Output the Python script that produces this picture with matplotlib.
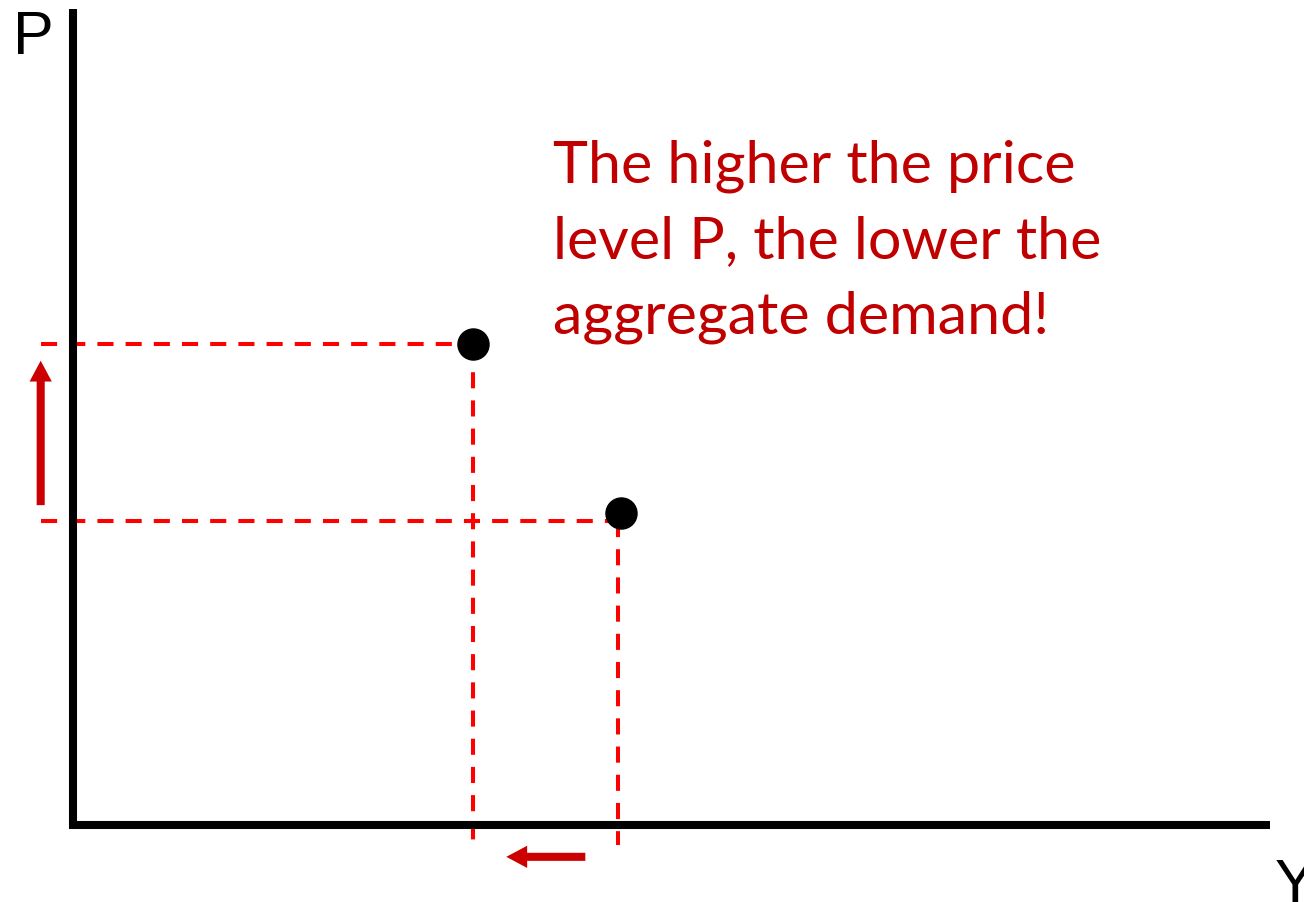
import matplotlib.pyplot as plt
from matplotlib.patches import FancyArrowPatch

# puntos de la demanda agregada (Y, P)
output_levels = [3.34, 4.58]
price_levels = [5.89, 3.82]

# líneas guía discontinuas
guide_y = [3.34, 4.55]
guide_p = [5.89, 3.73]
guide_start = -0.27
guide_bottom = [-0.20, -0.25]

annotation = ["The higher the price", "level P, the lower the", "aggregate demand!"]

red = '#C00000'
dash_red = '#FF0000'

fig = plt.figure(figsize=(13.04, 9.03), dpi=100)
ax = fig.add_axes([0, 0, 1, 1])
ax.set_xlim(-0.6099, 10.284)
ax.set_ylim(-0.9436, 10.1225)
ax.axis('off')

# ejes
ax.plot([0, 0, 10], [10, 0, 0], color='black', lw=5.8,
        solid_joinstyle='miter', solid_capstyle='butt', zorder=3)

# líneas discontinuas
for y, p, yb in zip(guide_y, guide_p, guide_bottom):
    ax.plot([guide_start, y], [p, p], color=dash_red, lw=2.9,
            dashes=(4, 3), dash_capstyle='butt', zorder=2, clip_on=False)
    ax.plot([y, y], [p, yb], color=dash_red, lw=2.9,
            dashes=(4, 3), dash_capstyle='butt', zorder=2, clip_on=False)

# puntos
ax.scatter(output_levels, price_levels, s=500, color='black', zorder=5)

# flechas
style = "simple,head_length=15,head_width=16,tail_width=5.8"
ax.add_patch(FancyArrowPatch((-0.27, 3.92), (-0.27, 5.69), arrowstyle=style,
                             mutation_scale=1, color='#CC0000', lw=0,
                             shrinkA=0, shrinkB=0))
ax.add_patch(FancyArrowPatch((4.28, -0.39), (3.62, -0.39), arrowstyle=style,
                             mutation_scale=1, color='#CC0000', lw=0,
                             shrinkA=0, shrinkB=0))

# etiquetas de ejes
ax.text(-0.50, 9.46, 'P', fontsize=44, family='Liberation Sans',
        va='baseline', ha='left')
ax.text(10.04, -0.93, 'Y', fontsize=44, family='Liberation Sans',
        va='baseline', ha='left', clip_on=False)

# texto explicativo
for i, line in enumerate(annotation):
    ax.text(4.01, 7.89 - i * 0.925, line, fontsize=42.7, family='Lato',
            color=red, va='baseline', ha='left')

plt.savefig('out.png', dpi=100)
